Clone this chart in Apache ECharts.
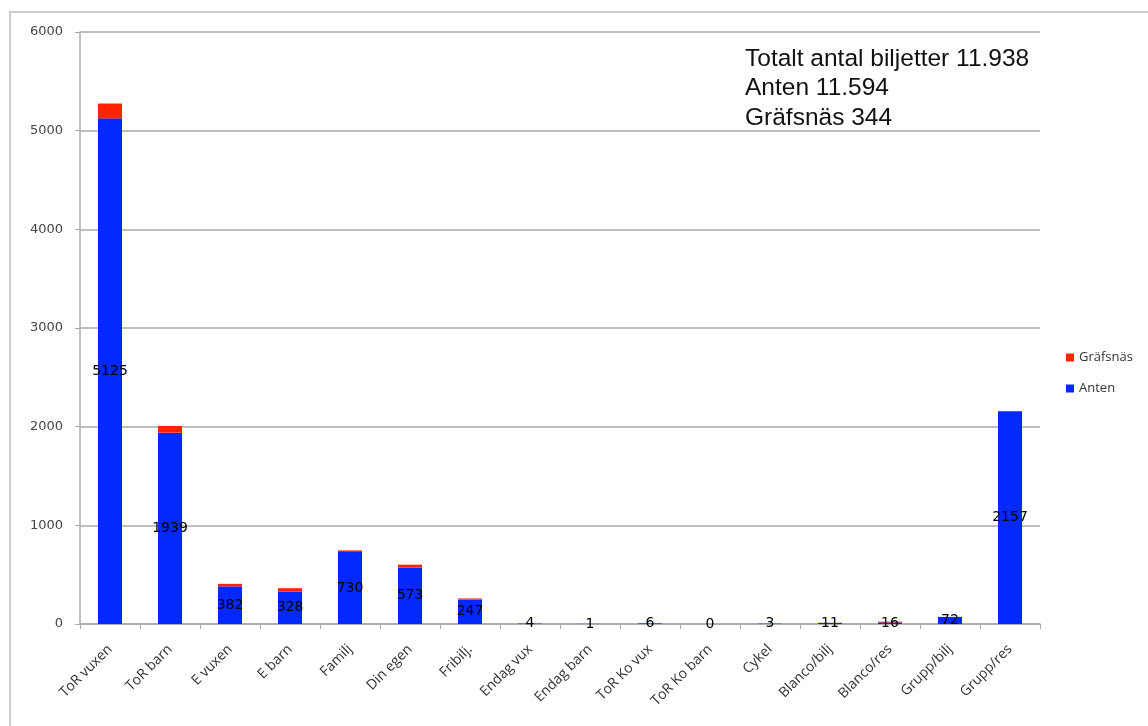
<!DOCTYPE html>
<html>
<head>
<meta charset="utf-8">
<script src="https://cdn.jsdelivr.net/npm/echarts@6/dist/echarts.min.js"></script>
<style>
html,body{margin:0;padding:0;background:#fff;}
#chart{width:1148px;height:726px;}
</style>
</head>
<body>
<div id="chart"></div>
<script>
const categories = ['ToR vuxen','ToR barn','E vuxen','E barn','Familj','Din egen','Fribilj.','Endag vux','Endag barn','ToR Ko vux','ToR Ko barn','Cykel','Blanco/bilj','Blanco/res','Grupp/bilj','Grupp/res'];
const anten = [5125,1939,382,328,730,573,247,4,1,6,0,3,11,16,72,2157];
const grafsnas = [150,68,25,35,16,28,12,0,0,0,0,0,2,8,0,0];
const yTicks = {min:0, max:6000, interval:1000};
const noteLines = ['Totalt antal biljetter 11.938','Anten 11.594','Gräfsnäs 344'];

const chart = echarts.init(document.getElementById('chart'));
chart.setOption({
  animation:false,
  backgroundColor:'#fff',
  grid:{left:80,right:108,top:32,bottom:102,containLabel:false},
  legend:{
    data:['Gräfsnäs','Anten'],
    orient:'vertical',
    left:1066, top:351, padding:0,
    icon:'rect', itemWidth:8, itemHeight:8, itemGap:18,
    textStyle:{fontFamily:'Open Sans',fontSize:13,color:'#333'}
  },
  xAxis:{
    type:'category',
    data:categories,
    boundaryGap:true,
    axisLine:{lineStyle:{color:'#aaa',width:1.5}},
    axisTick:{show:true,length:5,alignWithLabel:false,lineStyle:{color:'#aaa'}},
    axisLabel:{rotate:45,interval:0,margin:23,fontFamily:'Open Sans',fontSize:14,color:'#333'}
  },
  yAxis:{
    type:'value',
    min:yTicks.min,max:yTicks.max,interval:yTicks.interval,
    axisLine:{show:true,lineStyle:{color:'#aaa',width:1.5}},
    axisTick:{show:true,length:5,lineStyle:{color:'#aaa'}},
    splitLine:{lineStyle:{color:'#aaa',width:1.5}},
    axisLabel:{margin:17,fontFamily:'DejaVu Sans',fontSize:13,color:'#444',formatter:function(v){return String(v);}}
  },
  series:[
    {
      name:'Anten',type:'bar',stack:'t',data:anten,barWidth:24,
      itemStyle:{color:'#0528ff'},
      label:{show:true,position:'inside',color:'#000',fontFamily:'DejaVu Sans',fontSize:14}
    },
    {
      name:'Gräfsnäs',type:'bar',stack:'t',data:grafsnas,barWidth:24,
      itemStyle:{color:'#ff2400'}
    }
  ],
  graphic:[
    {type:'rect',shape:{x:10,y:12,width:1160,height:740},style:{fill:'none',stroke:'#ccc',lineWidth:2},silent:true},
    {type:'text',left:745,top:44,style:{text:noteLines.join('\n'),font:'24.5px "Liberation Sans"',lineHeight:29.5,fill:'#111'}}
  ]
});
</script>
</body>
</html>
